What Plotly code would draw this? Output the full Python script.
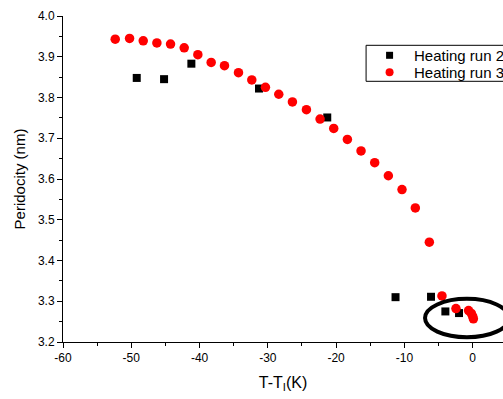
import plotly.graph_objects as go

# Heating run 2 (black squares)
run2_dt = [-49.2, -45.2, -41.2, -31.3, -21.3, -11.3, -6.1, -4.0, -2.0]
run2_period = [3.848, 3.845, 3.883, 3.822, 3.751, 3.310, 3.311, 3.275, 3.271]

# Heating run 3 (red circles)
run3_dt = [-52.35, -50.25, -48.25, -46.25, -44.25, -42.25, -40.25, -38.3, -36.35,
           -34.3, -32.35, -30.35, -28.4, -26.4, -24.35, -22.35, -20.35, -18.35,
           -16.35, -14.35, -12.35, -10.35, -8.4, -6.35, -4.5, -2.45, -0.6, -0.2,
           0.0, 0.1]
run3_period = [3.943, 3.945, 3.939, 3.934, 3.931, 3.922, 3.905, 3.886, 3.878,
               3.861, 3.843, 3.825, 3.808, 3.789, 3.770, 3.747, 3.724, 3.697,
               3.669, 3.640, 3.608, 3.574, 3.529, 3.445, 3.313, 3.282, 3.277,
               3.270, 3.263, 3.257]

x_ticks = [-60, -50, -40, -30, -20, -10, 0]
y_ticks = [3.2, 3.3, 3.4, 3.5, 3.6, 3.7, 3.8, 3.9, 4.0]

legend_labels = ["Heating run 2", "Heating run 3"]

FONT = "Liberation Sans, Arial, sans-serif"
W, H = 503, 399
M_L, M_R, M_T, M_B = 62.7, 0, 15.7, 57.3
PLOT_W = W - M_L - M_R
PLOT_H = H - M_T - M_B


def px_to_paper_x(px):
    return (px - M_L) / PLOT_W


def px_to_paper_y(py):
    return (H - M_B - py) / PLOT_H


fig = go.Figure()
fig.add_trace(go.Scatter(
    x=run2_dt, y=run2_period, mode="markers", name=legend_labels[0],
    marker=dict(symbol="square", size=8, color="black"),
    cliponaxis=False, showlegend=False,
))
fig.add_trace(go.Scatter(
    x=run3_dt, y=run3_period, mode="markers", name=legend_labels[1],
    marker=dict(symbol="circle", size=9.5, color="#ff0000"),
    cliponaxis=False, showlegend=False,
))

# Ellipse marking the points near the transition
fig.add_shape(type="circle", xref="x", yref="y",
              x0=-6.98, x1=5.3, y0=3.2115, y1=3.306,
              line=dict(color="black", width=4))

# Boxed legend in the upper right
fig.add_shape(type="rect", xref="paper", yref="paper",
              x0=px_to_paper_x(366), x1=px_to_paper_x(530),
              y0=px_to_paper_y(81), y1=px_to_paper_y(45),
              line=dict(color="black", width=1), fillcolor="white", layer="above")
fig.add_shape(type="rect", xref="paper", yref="paper",
              x0=px_to_paper_x(386), x1=px_to_paper_x(393),
              y0=px_to_paper_y(58.5), y1=px_to_paper_y(51.5),
              line=dict(width=0), fillcolor="black", layer="above")
fig.add_shape(type="circle", xref="paper", yref="paper",
              x0=px_to_paper_x(385.5), x1=px_to_paper_x(393.5),
              y0=px_to_paper_y(76), y1=px_to_paper_y(68),
              line=dict(width=0), fillcolor="#ff0000", layer="above")
for label, ypx in zip(legend_labels, [55, 72]):
    fig.add_annotation(
        text=label, xref="paper", yref="paper",
        x=px_to_paper_x(412), y=px_to_paper_y(ypx),
        xanchor="left", yanchor="middle", showarrow=False,
        font=dict(family=FONT, size=15, color="black"),
    )

axis_common = dict(
    showgrid=False, zeroline=False, showline=True, linecolor="black",
    linewidth=1, ticks="outside", ticklen=5, tickwidth=1, tickcolor="black",
    tickfont=dict(family=FONT, size=12, color="black"),
    mirror=False,
)

fig.update_xaxes(
    range=[-60, 4.44], tickvals=x_ticks, ticktext=[str(v) for v in x_ticks],
    minor=dict(dtick=5, ticks="outside", ticklen=3, tickcolor="black", tickwidth=1),
    title=dict(text="T-T<sub>I</sub>(K)", font=dict(family=FONT, size=16, color="black"),
               standoff=12),
    **axis_common,
)
fig.update_yaxes(
    range=[3.2, 4.0], tickvals=y_ticks, ticktext=[f"{v:.1f}" for v in y_ticks],
    minor=dict(dtick=0.05, ticks="outside", ticklen=3, tickcolor="black", tickwidth=1),
    title=dict(text="Peridocity (nm)", font=dict(family=FONT, size=15, color="black"),
               standoff=8),
    **axis_common,
)

fig.update_layout(
    width=W, height=H,
    margin=dict(l=M_L, r=M_R, t=M_T, b=M_B),
    paper_bgcolor="white", plot_bgcolor="white",
    showlegend=False,
)

fig.write_html("out.html")
